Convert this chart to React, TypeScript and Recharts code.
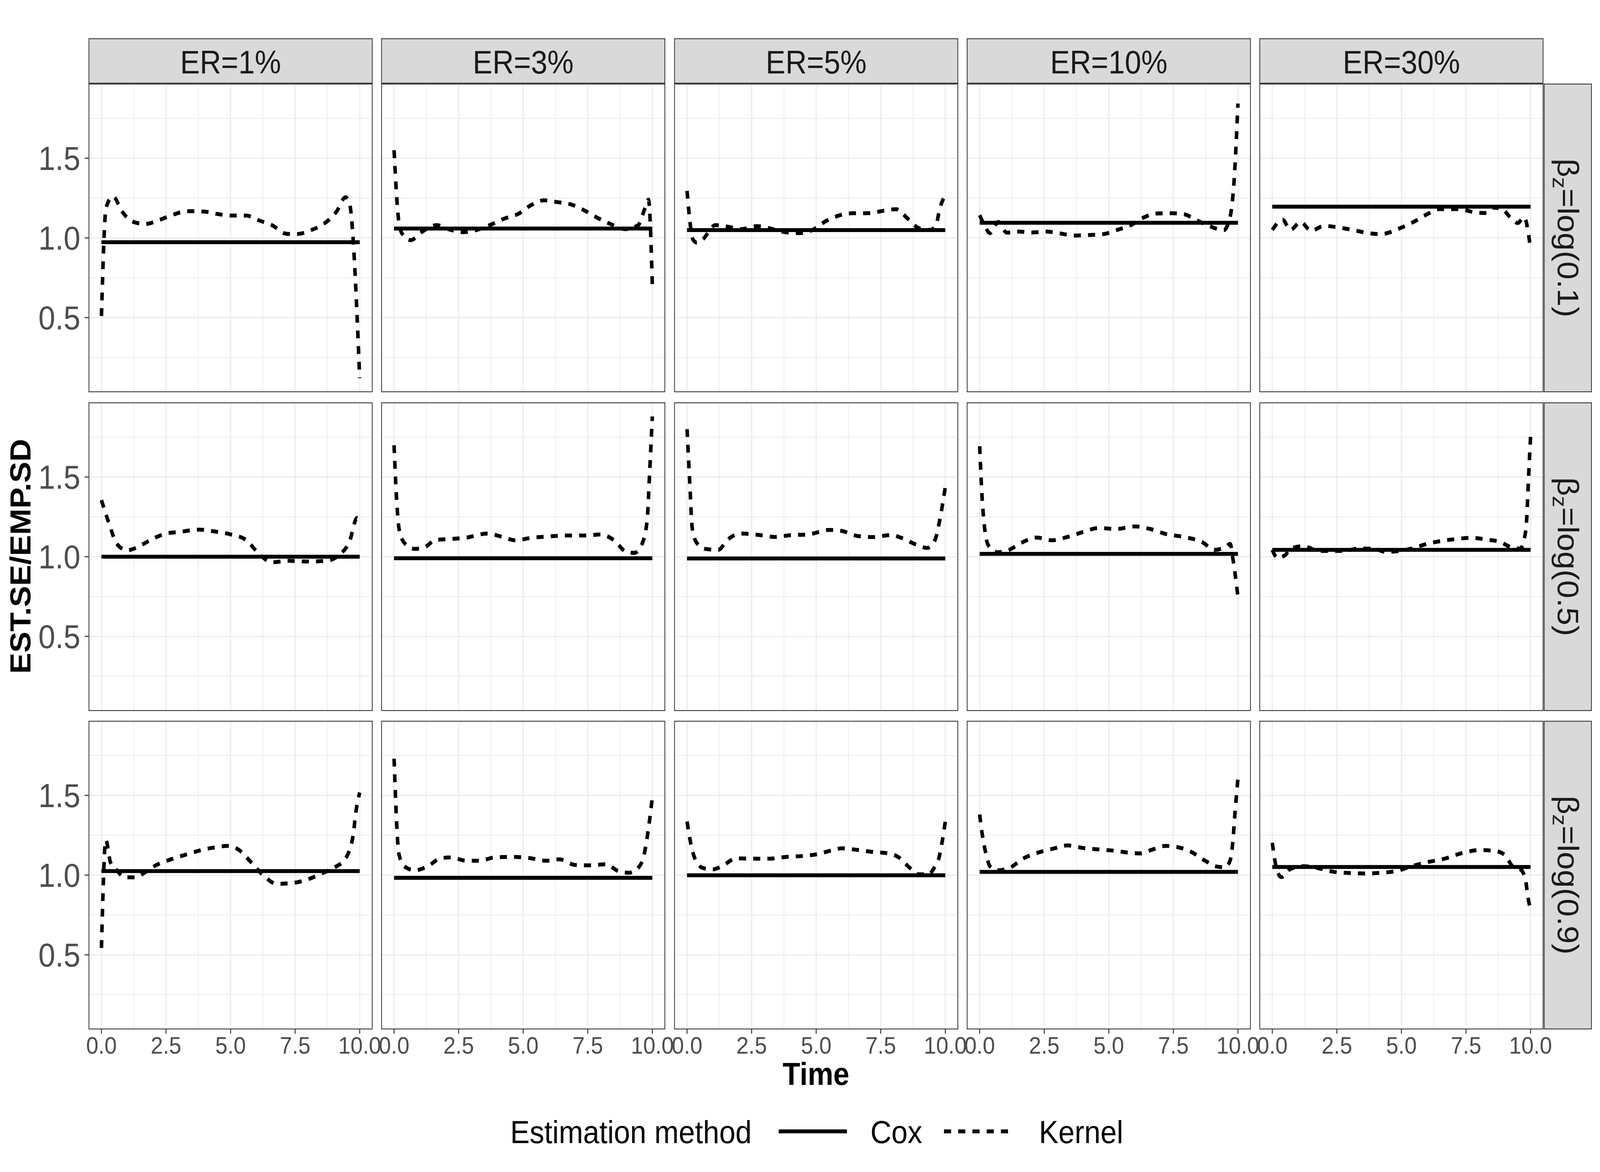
import React from "react";
import { CartesianGrid, Line, LineChart, XAxis, YAxis } from "recharts";

type Pt = [number, number];

const erLabels = ["ER=1%", "ER=3%", "ER=5%", "ER=10%", "ER=30%"];
const betaLabels = ["log(0.1)", "log(0.5)", "log(0.9)"];
const methodLabels = ["Cox", "Kernel"];

const timeTicks = [0, 2.5, 5, 7.5, 10];
const timeMinor = [1.25, 3.75, 6.25, 8.75];
const ratioTicks = [0.5, 1.0, 1.5];
const ratioMinor = [0.25, 0.75, 1.25, 1.75];

// Cox estimate (flat over time), one value per ER column
const coxLog01 = [0.973, 1.059, 1.049, 1.095, 1.196];
const coxLog05 = [1.0, 0.99, 0.989, 1.018, 1.043];
const coxLog09 = [1.025, 0.983, 0.999, 1.02, 1.051];

// Kernel estimate, [time, EST.SE/EMP.SD]
const kernelLog01Er1: Pt[] = [
	[0, 0.51], [0.18, 1.19], [0.45, 1.26], [0.8, 1.165], [1.2, 1.103], [1.7, 1.087],
	[2.2, 1.11], [2.8, 1.147], [3.3, 1.168], [4.0, 1.165], [4.5, 1.15], [5.0, 1.14],
	[5.6, 1.14], [6.1, 1.11], [6.6, 1.08], [7.2, 1.025], [7.6, 1.025], [8.1, 1.048],
	[8.6, 1.087], [9.1, 1.165], [9.45, 1.255], [9.6, 1.22], [10, 0.12],
];
const kernelLog01Er3: Pt[] = [
	[0, 1.55], [0.17, 1.12], [0.3, 1.03], [0.64, 0.986], [1.1, 1.04], [1.65, 1.08],
	[2.2, 1.05], [2.65, 1.036], [3.2, 1.05], [3.7, 1.08], [4.25, 1.12], [4.8, 1.15],
	[5.3, 1.205], [5.8, 1.236], [6.35, 1.224], [6.85, 1.21], [7.35, 1.174], [7.9, 1.124],
	[8.4, 1.086], [8.95, 1.055], [9.45, 1.08], [9.7, 1.18], [9.85, 1.24], [10, 0.705],
];
const kernelLog01Er5: Pt[] = [
	[0, 1.295], [0.23, 0.99], [0.38, 0.97], [0.6, 0.99], [1.1, 1.08], [1.6, 1.07],
	[2.1, 1.055], [2.7, 1.074], [3.2, 1.06], [3.8, 1.036], [4.35, 1.03], [4.86, 1.05],
	[5.37, 1.105], [5.87, 1.14], [6.45, 1.155], [7.03, 1.155], [7.6, 1.17], [8.1, 1.18],
	[8.55, 1.12], [8.99, 1.06], [9.42, 1.05], [9.64, 1.08], [9.78, 1.18], [10, 1.27],
];
const kernelLog01Er10: Pt[] = [
	[0, 1.143], [0.2, 1.074], [0.4, 1.03], [0.72, 1.1], [1.05, 1.033], [1.5, 1.04],
	[2.0, 1.034], [2.6, 1.04], [3.1, 1.028], [3.7, 1.015], [4.2, 1.018], [4.8, 1.024],
	[5.3, 1.049], [5.85, 1.08], [6.3, 1.124], [6.85, 1.153], [7.4, 1.155], [7.9, 1.149],
	[8.4, 1.111], [8.9, 1.074], [9.45, 1.049], [9.65, 1.105], [9.75, 1.18], [9.85, 1.355],
	[10, 1.843],
];
const kernelLog01Er30: Pt[] = [
	[0, 1.05], [0.4, 1.114], [0.7, 1.05], [1.1, 1.1], [1.5, 1.045], [2.0, 1.075],
	[2.6, 1.065], [3.2, 1.047], [3.8, 1.028], [4.2, 1.024], [4.9, 1.058], [5.5, 1.103],
	[6.0, 1.149], [6.5, 1.181], [7.2, 1.181], [7.9, 1.159], [8.3, 1.156], [8.55, 1.19],
	[8.9, 1.18], [9.3, 1.114], [9.5, 1.093], [9.75, 1.131], [9.9, 1.045], [10, 0.926],
];

const kernelLog05Er1: Pt[] = [
	[0, 1.355], [0.3, 1.205], [0.6, 1.08], [1.0, 1.04], [1.4, 1.06], [1.9, 1.105],
	[2.5, 1.145], [3.0, 1.155], [3.8, 1.17], [4.4, 1.158], [5.0, 1.14], [5.6, 1.105],
	[6.1, 1.018], [6.6, 0.965], [7.2, 0.974], [8.0, 0.97], [8.7, 0.974], [9.2, 1.011],
	[9.6, 1.093], [9.9, 1.243], [10, 1.218],
];
const kernelLog05Er3: Pt[] = [
	[0, 1.699], [0.1, 1.355], [0.2, 1.168], [0.4, 1.086], [0.8, 1.049], [1.2, 1.061],
	[1.6, 1.105], [2.2, 1.111], [2.8, 1.12], [3.6, 1.145], [4.2, 1.124], [4.7, 1.103],
	[5.3, 1.118], [5.9, 1.126], [6.7, 1.133], [7.5, 1.133], [8.0, 1.14], [8.5, 1.105],
	[9.0, 1.03], [9.3, 1.024], [9.6, 1.08], [9.8, 1.23], [9.9, 1.543], [10, 1.88],
];
const kernelLog05Er5: Pt[] = [
	[0, 1.8], [0.1, 1.48], [0.2, 1.18], [0.35, 1.093], [0.7, 1.049], [1.2, 1.043],
	[1.6, 1.111], [2.1, 1.145], [2.8, 1.136], [3.4, 1.124], [4.0, 1.135], [4.7, 1.14],
	[5.5, 1.168], [6.0, 1.161], [6.6, 1.13], [7.2, 1.123], [7.9, 1.136], [8.3, 1.118],
	[8.9, 1.074], [9.3, 1.055], [9.6, 1.105], [9.8, 1.243], [10, 1.436],
];
const kernelLog05Er10: Pt[] = [
	[0, 1.693], [0.1, 1.355], [0.2, 1.168], [0.35, 1.068], [0.7, 1.028], [1.1, 1.04],
	[1.6, 1.086], [2.2, 1.12], [2.8, 1.103], [3.4, 1.124], [4.0, 1.155], [4.6, 1.18],
	[5.3, 1.174], [6.0, 1.19], [6.6, 1.174], [7.2, 1.143], [7.9, 1.124], [8.6, 1.093],
	[9.1, 1.043], [9.5, 1.061], [9.7, 1.08], [9.8, 0.993], [9.9, 0.88], [10, 0.749],
];
const kernelLog05Er30: Pt[] = [
	[0, 1.043], [0.2, 0.992], [0.5, 1.01], [0.7, 1.05], [1.2, 1.066], [1.8, 1.036],
	[2.3, 1.036], [2.8, 1.036], [3.3, 1.051], [3.9, 1.051], [4.4, 1.03], [4.9, 1.036],
	[5.4, 1.051], [6.0, 1.081], [6.6, 1.1], [7.2, 1.112], [7.7, 1.119], [8.3, 1.107],
	[8.8, 1.094], [9.3, 1.056], [9.6, 1.051], [9.75, 1.107], [9.85, 1.234], [9.92, 1.487],
	[10, 1.754],
];

const kernelLog09Er1: Pt[] = [
	[0, 0.543], [0.17, 1.22], [0.35, 1.08], [0.6, 1.03], [0.9, 0.986], [1.3, 0.986],
	[1.7, 1.018], [2.1, 1.061], [2.7, 1.099], [3.3, 1.13], [3.9, 1.158], [4.4, 1.174],
	[4.9, 1.183], [5.3, 1.161], [5.8, 1.08], [6.3, 0.993], [6.8, 0.945], [7.5, 0.953],
	[8.1, 0.98], [8.6, 1.015], [9.1, 1.055], [9.4, 1.093], [9.6, 1.155], [9.75, 1.255],
	[9.85, 1.393], [10, 1.518],
];
const kernelLog09Er3: Pt[] = [
	[0, 1.73], [0.19, 1.13], [0.4, 1.055], [0.8, 1.03], [1.3, 1.055], [1.8, 1.105],
	[2.2, 1.111], [2.8, 1.09], [3.3, 1.09], [3.9, 1.111], [4.6, 1.114], [5.2, 1.108],
	[5.9, 1.09], [6.4, 1.099], [7.0, 1.064], [7.6, 1.061], [8.2, 1.068], [8.7, 1.024],
	[9.1, 1.015], [9.5, 1.055], [9.7, 1.143], [9.85, 1.293], [10, 1.486],
];
const kernelLog09Er5: Pt[] = [
	[0, 1.336], [0.15, 1.193], [0.3, 1.105], [0.6, 1.045], [1.0, 1.036], [1.4, 1.061],
	[1.9, 1.105], [2.5, 1.103], [3.2, 1.103], [3.9, 1.115], [4.5, 1.12], [5.0, 1.13],
	[5.6, 1.155], [6.0, 1.168], [6.6, 1.158], [7.2, 1.145], [7.8, 1.136], [8.2, 1.111],
	[8.6, 1.049], [9.0, 1.005], [9.35, 1.005], [9.6, 1.055], [9.75, 1.105], [9.9, 1.23],
	[10, 1.336],
];
const kernelLog09Er10: Pt[] = [
	[0, 1.38], [0.1, 1.255], [0.25, 1.13], [0.4, 1.055], [0.7, 1.03], [1.2, 1.049],
	[1.7, 1.105], [2.3, 1.143], [2.9, 1.168], [3.4, 1.186], [4.0, 1.17], [4.6, 1.161],
	[5.2, 1.153], [5.8, 1.14], [6.2, 1.136], [6.7, 1.161], [7.2, 1.183], [7.7, 1.174],
	[8.2, 1.145], [8.7, 1.093], [9.2, 1.053], [9.5, 1.049], [9.7, 1.093], [9.8, 1.205],
	[9.9, 1.418], [10, 1.605],
];
const kernelLog09Er30: Pt[] = [
	[0, 1.203], [0.15, 1.051], [0.35, 0.987], [0.7, 1.038], [1.2, 1.056], [1.8, 1.043],
	[2.4, 1.02], [3.0, 1.013], [3.6, 1.01], [4.2, 1.015], [4.8, 1.025], [5.4, 1.056],
	[6.0, 1.081], [6.6, 1.1], [7.4, 1.14], [8.0, 1.157], [8.6, 1.152], [9.0, 1.127],
	[9.3, 1.056], [9.6, 1.038], [9.8, 0.975], [9.9, 0.86], [10, 0.784],
];

const coxRows = [coxLog01, coxLog05, coxLog09];
const kernelRows = [
	[kernelLog01Er1, kernelLog01Er3, kernelLog01Er5, kernelLog01Er10, kernelLog01Er30],
	[kernelLog05Er1, kernelLog05Er3, kernelLog05Er5, kernelLog05Er10, kernelLog05Er30],
	[kernelLog09Er1, kernelLog09Er3, kernelLog09Er5, kernelLog09Er10, kernelLog09Er30],
];

// layout, drawn on a 4500x3000 canvas and squeezed to the 4096px-wide viewport
const FONT = '"Liberation Sans", Arial, Helvetica, sans-serif';
const CANVAS_W = 4500;
const CANVAS_H = 3000;
const VIEW_W = 4096;
const PANEL_W = 799;
const PANEL_H = 790;
const COL_X = [249, 1072, 1896, 2719, 3542];
const ROW_Y = [214, 1030, 1845];
const Y_AXIS_W = 249;
const X_AXIS_H = 90;
const STRIP_TOP = 98;
const STRIP_H = 116;
const STRIP_RIGHT_X = 4342;
const STRIP_W = 135;
const LINE_W = 10;
const DASH = "20 20";
const BORDER = 2.2;

function FacetPanel({ row, col }: { row: number; col: number }) {
	const withY = col === 0;
	const withX = row === ROW_Y.length - 1;
	const kernel = kernelRows[row][col].map(([t, v]) => ({ t, v }));
	const cox = [0, 10].map((t) => ({ t, v: coxRows[row][col] }));
	return (
		<div
			style={{
				position: "absolute",
				left: COL_X[col] - (withY ? Y_AXIS_W : 0),
				top: ROW_Y[row],
			}}
		>
			<LineChart
				width={PANEL_W + (withY ? Y_AXIS_W : 0)}
				height={PANEL_H + (withX ? X_AXIS_H : 0)}
				margin={{ top: 0, right: 0, bottom: 0, left: 0 }}
			>
				<CartesianGrid
					stroke="#EBEBEB"
					strokeWidth={2}
					horizontalValues={ratioMinor}
					verticalValues={timeMinor}
				/>
				<CartesianGrid
					stroke="#EBEBEB"
					strokeWidth={3.1}
					horizontalValues={ratioTicks}
					verticalValues={timeTicks}
				/>
				<XAxis
					type="number"
					dataKey="t"
					domain={[-0.5, 10.5]}
					ticks={timeTicks}
					interval={0}
					allowDataOverflow
					hide={!withX}
					height={X_AXIS_H}
					axisLine={false}
					tickLine={{ stroke: "#333333", strokeWidth: 2.7 }}
					tickSize={11}
					tickMargin={7}
					tick={{ fontSize: 62, fill: "#4D4D4D", fontFamily: FONT }}
					tickFormatter={(v: number) => v.toFixed(1)}
				/>
				<YAxis
					type="number"
					domain={[0.032, 1.968]}
					ticks={ratioTicks}
					interval={0}
					allowDataOverflow
					hide={!withY}
					width={Y_AXIS_W}
					axisLine={false}
					tickLine={{ stroke: "#333333", strokeWidth: 2.7 }}
					tickSize={11}
					tickMargin={12}
					tick={{ fontSize: 85, fill: "#4D4D4D", fontFamily: FONT }}
					tickFormatter={(v: number) => v.toFixed(1)}
				/>
				<Line
					data={cox}
					dataKey="v"
					name={methodLabels[0]}
					type="linear"
					stroke="#000000"
					strokeWidth={LINE_W}
					dot={false}
					activeDot={false}
					isAnimationActive={false}
				/>
				<Line
					data={kernel}
					dataKey="v"
					name={methodLabels[1]}
					type="monotoneX"
					stroke="#000000"
					strokeWidth={LINE_W}
					strokeDasharray={DASH}
					strokeLinejoin="round"
					dot={false}
					activeDot={false}
					isAnimationActive={false}
				/>
			</LineChart>
		</div>
	);
}

function Decorations() {
	return (
		<svg
			width={CANVAS_W}
			height={CANVAS_H}
			style={{ position: "absolute", left: 0, top: 0, pointerEvents: "none" }}
			fontFamily={FONT}
		>
			{/* panel borders */}
			{ROW_Y.map((y) =>
				COL_X.map((x) => (
					<rect
						key={`${x}-${y}`}
						x={x + BORDER / 2}
						y={y + BORDER / 2}
						width={PANEL_W - BORDER}
						height={PANEL_H - BORDER}
						fill="none"
						stroke="#333333"
						strokeWidth={BORDER}
					/>
				)),
			)}
			{/* top strips */}
			{COL_X.map((x, i) => (
				<g key={erLabels[i]}>
					<rect
						x={x + BORDER / 2}
						y={STRIP_TOP + BORDER / 2}
						width={PANEL_W - BORDER}
						height={STRIP_H - BORDER}
						fill="#D9D9D9"
						stroke="#333333"
						strokeWidth={BORDER}
					/>
					<text
						x={x + PANEL_W / 2}
						y={STRIP_TOP + 90}
						textAnchor="middle"
						fontSize={83}
						fill="#1A1A1A"
					>
						{erLabels[i]}
					</text>
				</g>
			))}
			{/* right strips */}
			{ROW_Y.map((y, i) => {
				const cx = STRIP_RIGHT_X + STRIP_W / 2;
				const cy = y + PANEL_H / 2;
				return (
					<g key={betaLabels[i]}>
						<rect
							x={STRIP_RIGHT_X + BORDER / 2}
							y={y + BORDER / 2}
							width={STRIP_W - BORDER}
							height={PANEL_H - BORDER}
							fill="#D9D9D9"
							stroke="#333333"
							strokeWidth={BORDER}
						/>
						<text
							x={cx}
							y={cy + 28}
							transform={`rotate(90 ${cx} ${cy})`}
							textAnchor="middle"
							fontSize={83}
							fill="#1A1A1A"
						>
							β
							<tspan fontSize={58} dy={14}>
								z
							</tspan>
							<tspan dy={-14}>={betaLabels[i]}</tspan>
						</text>
					</g>
				);
			})}
			{/* axis titles */}
			<text x={2295} y={2777} textAnchor="middle" fontSize={81} fontWeight="bold" fill="#000000">
				Time
			</text>
			<text
				x={86}
				y={1424}
				transform="rotate(-90 86 1424)"
				textAnchor="middle"
				fontSize={81}
				fontWeight="bold"
				fill="#000000"
			>
				EST.SE/EMP.SD
			</text>
			{/* legend */}
			<text x={1435} y={2926} fontSize={82} fill="#000000">
				Estimation method
			</text>
			<line x1={2190} x2={2382} y1={2896} y2={2896} stroke="#000000" strokeWidth={LINE_W} />
			<text x={2448} y={2926} fontSize={82} fill="#000000">
				{methodLabels[0]}
			</text>
			<line
				x1={2655}
				x2={2841}
				y1={2896}
				y2={2896}
				stroke="#000000"
				strokeWidth={LINE_W}
				strokeDasharray={DASH}
			/>
			<text x={2922} y={2926} fontSize={82} fill="#000000">
				{methodLabels[1]}
			</text>
		</svg>
	);
}

export default function App() {
	return (
		<div
			style={{
				position: "absolute",
				left: 0,
				top: 0,
				width: CANVAS_W,
				height: CANVAS_H,
				background: "#FFFFFF",
				fontFamily: FONT,
				transform: `scale(${VIEW_W / CANVAS_W}, 1)`,
				transformOrigin: "0 0",
			}}
		>
			<style>{".recharts-surface { overflow: visible; }"}</style>
			{ROW_Y.map((_, r) =>
				COL_X.map((__, c) => <FacetPanel key={`${r}-${c}`} row={r} col={c} />),
			)}
			<Decorations />
		</div>
	);
}
